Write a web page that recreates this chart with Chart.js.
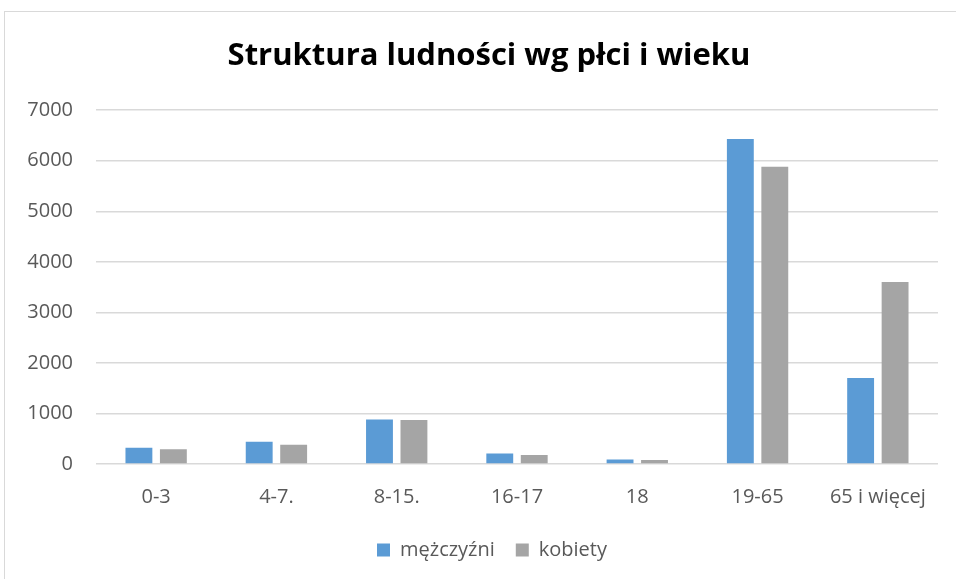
<!DOCTYPE html>
<html>
<head>
<meta charset="utf-8">
<script src="https://cdn.jsdelivr.net/npm/chart.js@4/dist/chart.umd.min.js"></script>
<style>
html,body{margin:0;padding:0;background:#fff;overflow:hidden;width:956px;height:579px;}
#frame{position:absolute;left:4px;top:11px;width:1000px;height:1000px;border:1px solid #d9d9d9;pointer-events:none;}
canvas{position:absolute;left:0;top:0;}
</style>
</head>
<body>
<canvas id="c" width="956" height="579"></canvas>
<div id="frame"></div>
<script>
const categories = ["0-3", "4-7.", "8-15.", "16-17", "18", "19-65", "65 i więcej"];
const men = [320, 440, 880, 210, 90, 6430, 1700];
const women = [290, 380, 870, 180, 80, 5880, 3600];
const seriesNames = ["mężczyźni", "kobiety"];
const titleText = "Struktura ludności wg płci i wieku";

const FONT = "'Open Sans', 'DejaVu Sans', sans-serif";

// shift title and legend slightly right, as in the reference (centred over the frame)
const shiftBoxes = {
  id: 'shiftBoxes',
  afterLayout(chart) {
    if (chart.titleBlock) { chart.titleBlock.left += 7; chart.titleBlock.right += 7; }
    if (chart.legend) { chart.legend.left += 10; chart.legend.right += 10; }
  }
};

new Chart(document.getElementById('c'), {
  type: 'bar',
  data: {
    labels: categories,
    datasets: [
      {label: seriesNames[0], data: men, backgroundColor: '#5b9bd5', categoryPercentage: 0.573, barPercentage: 0.78},
      {label: seriesNames[1], data: women, backgroundColor: '#a5a5a5', categoryPercentage: 0.573, barPercentage: 0.78}
    ]
  },
  plugins: [shiftBoxes],
  options: {
    responsive: false,
    animation: false,
    layout: {padding: {left: 26, right: 18, top: 0, bottom: 9}},
    plugins: {
      title: {display: true, text: titleText, color: '#000', font: {family: FONT, size: 31, weight: 'bold'}, padding: {top: 38, bottom: 35}},
      legend: {position: 'bottom', labels: {boxWidth: 13, boxHeight: 13, color: '#595959', font: {family: FONT, size: 20}, padding: 21}},
      tooltip: {enabled: false}
    },
    scales: {
      x: {
        grid: {display: false},
        border: {display: false},
        ticks: {color: '#595959', font: {family: FONT, size: 20}, padding: 13},
        afterFit: s => { s.height = 55; }
      },
      y: {
        min: 0, max: 7000,
        ticks: {stepSize: 1000, color: '#595959', font: {family: FONT, size: 20}, padding: 23, callback: v => String(v)},
        grid: {color: '#d9d9d9', lineWidth: 1.5, drawTicks: false},
        border: {display: false},
        afterFit: s => { s.width = 70; }
      }
    }
  }
});
</script>
</body>
</html>
